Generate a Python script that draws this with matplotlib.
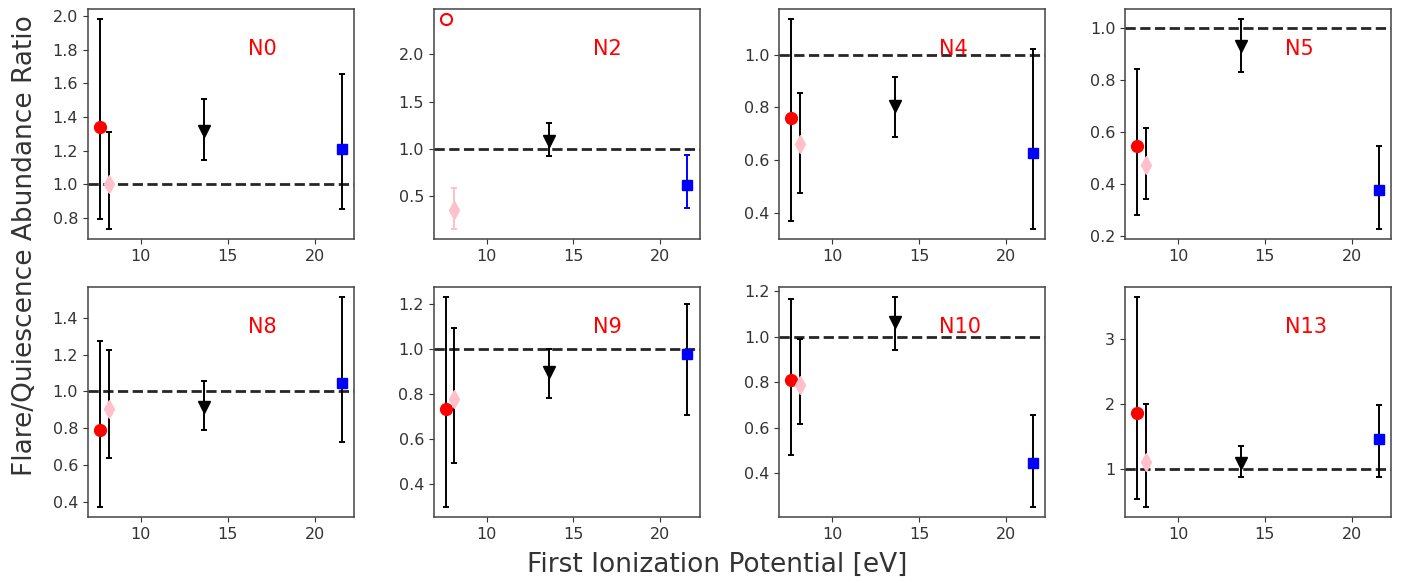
import numpy as np
import matplotlib
matplotlib.use('Agg')
import matplotlib.pyplot as plt

nan = np.nan

panels = ['N0', 'N2', 'N4', 'N5', 'N8', 'N9', 'N10', 'N13']
fip = [7.65, 8.15, 13.62, 21.56]   # first ionization potential [eV]

# red (first point)
red_val = [1.34, 2.37, 0.76, 0.545, 0.787, 0.735, 0.811, 1.86]
red_hi = [1.98, nan, 1.133, 0.842, 1.274, 1.229, 1.166, 3.648]
red_lo = [0.796, nan, 0.372, 0.281, 0.373, 0.301, 0.48, 0.54]
# pink
pink_val = [1.0, 0.358, 0.663, 0.473, 0.905, 0.776, 0.789, 1.112]
pink_hi = [1.312, 0.589, 0.855, 0.615, 1.225, 1.091, 0.989, 2.0]
pink_lo = [0.735, 0.153, 0.477, 0.341, 0.636, 0.495, 0.615, 0.423]
# black triangle
blk_val = [1.316, 1.085, 0.807, 0.929, 0.917, 0.897, 1.065, 1.096]
blk_hi = [1.508, 1.27, 0.914, 1.032, 1.058, 1.0, 1.174, 1.357]
blk_lo = [1.147, 0.926, 0.69, 0.829, 0.787, 0.783, 0.942, 0.882]
# blue square
blue_val = [1.212, 0.614, 0.626, 0.376, 1.043, 0.977, 0.444, 1.459]
blue_hi = [1.655, 0.94, 1.023, 0.547, 1.514, 1.2, 0.658, 1.98]
blue_lo = [0.855, 0.37, 0.34, 0.226, 0.727, 0.705, 0.254, 0.882]

# panels where the error bars take the marker colour
colored_err = ['N2']

plt.rcParams['font.family'] = 'DejaVu Sans'

fig, axes = plt.subplots(2, 4, figsize=(14.03, 5.83), dpi=100)
fig.subplots_adjust(left=0.0627, right=0.9914, top=0.9846, bottom=0.1132,
                    wspace=0.30, hspace=0.204)


def err(v, lo, hi):
    return [[v - lo], [hi - v]]


for i, ax in enumerate(axes.flat):
    name = panels[i]
    col = name in colored_err
    kw = dict(capsize=2, elinewidth=1.4, capthick=1.4, linestyle='none')

    if np.isnan(red_hi[i]):
        ax.plot(fip[0], red_val[i], 'o', mfc='none', mec='red', ms=8, mew=1.5)
    else:
        ax.errorbar(fip[0], red_val[i], yerr=err(red_val[i], red_lo[i], red_hi[i]),
                    fmt='o', color='red', ecolor='k', ms=8.5, **kw)
    ax.errorbar(fip[1], pink_val[i], yerr=err(pink_val[i], pink_lo[i], pink_hi[i]),
                fmt='d', color='pink', ecolor='pink' if col else 'k', ms=9, **kw)
    ax.errorbar(fip[2], blk_val[i], yerr=err(blk_val[i], blk_lo[i], blk_hi[i]),
                fmt='v', color='k', ecolor='k', ms=9, **kw)
    ax.errorbar(fip[3], blue_val[i], yerr=err(blue_val[i], blue_lo[i], blue_hi[i]),
                fmt='s', color='blue', ecolor='blue' if col else 'k', ms=7.5, **kw)

    ax.axhline(1.0, color='k', linestyle='--', linewidth=2.0, alpha=0.85)
    ax.text(0.6, 0.8, name, transform=ax.transAxes, color='red', fontsize=15)

    ax.tick_params(labelsize=11.5, colors='#333333')
    for s in ax.spines.values():
        s.set_color('#444444')
        s.set_linewidth(1.1)

fig.text(25 / 1403, 1 - 246 / 583, 'Flare/Quiescence Abundance Ratio',
         rotation=90, ha='center', va='center', fontsize=19, color='#333333')
fig.text(717 / 1403, 1 - 565 / 583, 'First Ionization Potential [eV]',
         ha='center', va='center', fontsize=19, color='#333333')

fig.savefig('out.png', dpi=100)
